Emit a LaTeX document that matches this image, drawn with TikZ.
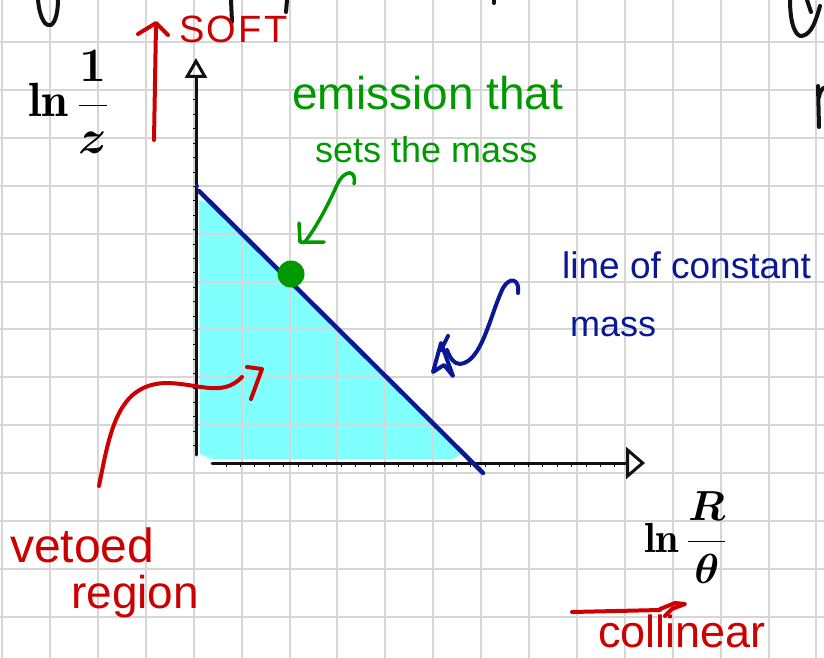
\RequirePackage{fix-cm}
\documentclass[tikz,border=0pt]{standalone}
\usepackage{amsmath}
\usepackage{fontspec}
\newfontfamily\hand{Liberation Sans}
\newfontfamily\handwide{Liberation Sans}[LetterSpace=6]
\newcommand\handat[1]{\hand\fontsize{#1}{#1}\selectfont}
\usetikzlibrary{arrows.meta}

\definecolor{ink}{RGB}{17,17,17}
\definecolor{inkred}{RGB}{204,0,0}
\definecolor{inkgreen}{RGB}{0,153,0}
\definecolor{inkblue}{RGB}{10,24,150}
\definecolor{fillcyan}{RGB}{128,255,255}
\definecolor{gridgray}{RGB}{214,214,214}

\tikzset{
  pen/.style={line width=4pt, line cap=round, line join=round},
  note/.style={inner sep=0pt, anchor=base west},
  axis/.style={ink, line width=3pt, line cap=round},
}

\begin{document}
\begin{tikzpicture}[x=1pt, y=-1pt]
        \useasboundingbox (0,0) rectangle (824,658);
        \clip (0,0) rectangle (824,658);
        \fill[white] (0,0) rectangle (824,658);

        % Vetoed region (under the line)
        \fill[fillcyan] (199,200) -- (214,204) -- (388,377) -- (440,431) -- (461,455)
            -- (452,459) -- (212,459) -- (200,454) -- cycle;

        % Paper grid
        \foreach \i in {0,...,17}
            \draw[gridgray, line width=2pt] ({2.1+47.9*\i},0) -- ({2.1+47.9*\i},658);
        \foreach \j in {0,...,12}
            \draw[gridgray, line width=2pt] (0,{42+47.9*\j}) -- (824,{42+47.9*\j});

        % Cut-off writing from the line above
        \draw[ink, pen] (38,0) .. controls (40,20) and (46,27) .. (51,25) .. controls (56,22) and (58,10) .. (58,0);
        \draw[ink, pen] (231,0) -- (232,22);
        \draw[ink, pen] (287,0) -- (286,12);
        \draw[ink, pen] (494,0) -- (494,3);
        \draw[ink, pen] (790,0) .. controls (790,25) and (796,37) .. (802,36) .. controls (812,34) and (816,20) .. (820,6);
        \draw[ink, pen] (807,0) -- (811,12);
        \draw[ink, pen] (818,86) -- (819,127);
        \draw[ink, pen] (819,97) .. controls (820,91) and (822,88) .. (826,87);

        % Axes
        \coordinate (origin) at (196,463);
        \coordinate (ytip) at (196,58);
        \coordinate (xtip) at (645,463);
        \draw[axis, -{Triangle[open, length=20pt, width=22pt, line width=3pt]}] (196,455) -- (ytip);
        \draw[axis, -{Triangle[open, length=19pt, width=32pt, line width=3pt]}] (212,463) -- (xtip);
        \foreach \k in {0,...,27}
            \draw[ink, line width=1pt] ({226+14.4*\k},463) -- ++(0,3.5);
        \foreach \k in {0,...,24}
            \draw[ink, line width=1pt] (196,{100+14.4*\k}) -- ++(-3.5,0);

        % Line of constant mass
        \coordinate (mtop) at (199,191);
        \coordinate (mend) at (483,473);
        \fill[inkblue] (197,186) circle (2);
        \draw[inkblue, pen, line width=4.5pt] (mtop) -- (mend);

        % Emission point
        \node[circle, fill=inkgreen, minimum size=27pt, inner sep=0pt] (emit) at (291,274) {};

        % Axis labels
        \node[note, font=\fontsize{48}{54}\selectfont\boldmath] (ylabel) at (28,117) {$\ln\dfrac{1}{z}$};
        \node[note, font=\fontsize{42}{48}\selectfont\boldmath] (xlabel) at (644,552) {$\ln\dfrac{R}{\theta}$};

        % Soft direction
        \node[note, text=inkred, font=\handwide\fontsize{38}{38}\selectfont] (soft) at (179,43) {SOFT};
        \draw[inkred, pen] (154,140) -- (156,25);
        \draw[inkred, pen] (138,34) -- (156,23) -- (168,35);

        % Collinear direction
        \node[note, text=inkred, font=\handat{45}] (collinear) at (598,647) {collinear};
        \draw[inkred, pen] (572,612) -- (660,610);
        \draw[inkred, pen] (660,609) -- (675,603) -- (685,604) -- (672,609) -- (665,616);

        % Emission note
        \node[note, text=inkgreen, font=\handat{46}] (emission) at (292,110) {emission that};
        \node[note, text=inkgreen, font=\handat{36}] (sets) at (315,162) {sets the mass};
        \coordinate (gstart) at (354,184);
        \coordinate (gend) at (304,243);
        \draw[inkgreen, pen, line width=3.5pt] (gstart) .. controls (357,170) and (345,168) .. (337,185)
            .. controls (327,207) and (316,228) .. (gend);
        \draw[inkgreen, pen, line width=3.5pt] (299,223) -- (300,242) -- (324,242);

        % Line note
        \node[note, text=inkblue, font=\handat{37}] (lineof) at (562,278) {line of constant};
        \node[note, text=inkblue, font=\handat{36}] (mass) at (570,336) {mass};
        \coordinate (bstart) at (518,293);
        \coordinate (bend) at (447,350);
        \draw[inkblue, pen] (bstart) .. controls (520,279) and (510,276) .. (503,288)
            .. controls (490,315) and (482,362) .. (460,364) .. controls (454,364) and (450,358) .. (bend);
        \draw[inkblue, pen] (441,343) -- (433,372) -- (444,365) -- (453,376) -- cycle;
        \draw[inkblue, pen] (448,336) -- (441,350);

        % Vetoed note
        \node[note, text=inkred, font=\handat{48}] (vetoed) at (10,562) {vetoed};
        \node[note, text=inkred, font=\handat{46}] (region) at (71,608) {region};
        \coordinate (rstart) at (99,486);
        \coordinate (rend) at (242,377);
        \draw[inkred, pen] (rstart) .. controls (110,430) and (118,385) .. (165,383)
            .. controls (198,383) and (222,398) .. (rend);
        \draw[inkred, pen] (247,367) -- (262,369) -- (251,399);
\end{tikzpicture}
\end{document}
